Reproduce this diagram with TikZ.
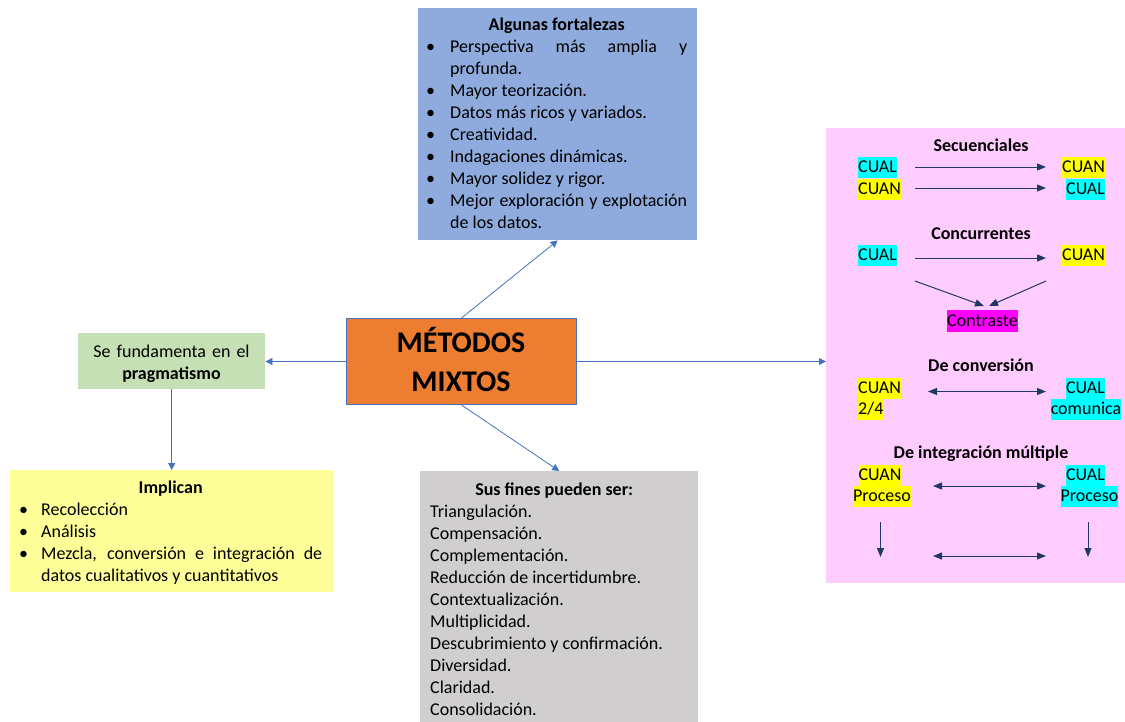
\documentclass[tikz,border=0pt]{standalone}
\usepackage{fontspec}
\setmainfont{Carlito}
\usetikzlibrary{arrows.meta}

\definecolor{linkblue}{HTML}{4472C4}
\definecolor{navy}{HTML}{1F3864}
\definecolor{fortfill}{HTML}{8FAADC}
\definecolor{corefill}{HTML}{ED7D31}
\definecolor{basefill}{HTML}{C5E0B4}
\definecolor{implfill}{HTML}{FFFF99}
\definecolor{finesfill}{HTML}{D0CECE}
\definecolor{pinkfill}{HTML}{FFCCFF}
\definecolor{hlcyan}{HTML}{00FFFF}
\definecolor{hlyellow}{HTML}{FFFF00}
\definecolor{hlmagenta}{HTML}{FF00FF}

% centred bold heading line opening a text block
\newcommand{\boxtitle}[1]{\makebox[\linewidth]{\bfseries #1}\par}
% bullet paragraph with hanging indent
\newcommand{\bitem}[2]{\par\noindent\hangindent=#1\hangafter=1\makebox[#1][l]{\textbullet}#2\par}
\newcommand{\nohyph}{\hyphenpenalty=10000\exhyphenpenalty=10000\emergencystretch=20pt}

\tikzset{
  panel/.style={draw=none, inner sep=0pt, anchor=north west},
  body/.style={inner sep=0pt, anchor=base west, align=justify,
    font=\fontsize{18}{22}\selectfont\nohyph},
  link/.style={draw=linkblue, line width=0.8pt, -{Triangle[length=7pt,width=7pt]}},
  flow/.style={draw=navy, line width=1pt, -{Triangle[length=9pt,width=7pt]}},
  bothflow/.style={draw=navy, line width=1pt, {Triangle[length=9pt,width=7pt]}-{Triangle[length=9pt,width=7pt]}},
  hl/.style={inner sep=0pt, text height=15pt, text depth=5.5pt,
    font=\fontsize{18}{22}\selectfont},
  headline/.style={inner sep=0pt, anchor=base, font=\fontsize{18}{22}\selectfont\bfseries},
}

\begin{document}
\begin{tikzpicture}[x=1pt,y=-1pt]
\useasboundingbox[fill=white] (0,0) rectangle (1125,721);

% ---------- panels ----------
\node[panel, fill=fortfill, minimum width=279pt, minimum height=232pt] (fort) at (418,8) {};
\node[panel, fill=corefill, draw=linkblue, line width=1pt, minimum width=230pt, minimum height=86pt] (core) at (346,318) {};
\node[panel, fill=basefill, minimum width=187pt, minimum height=56pt] (base) at (78,333) {};
\node[panel, fill=implfill, minimum width=323pt, minimum height=122pt] (impl) at (10,470) {};
\node[panel, fill=finesfill, minimum width=278pt, minimum height=252pt] (fines) at (420,471) {};
\node[panel, fill=pinkfill, minimum width=299pt, minimum height=455pt] (pink) at (826,128) {};

% ---------- connectors ----------
\draw[link] (core.north) -- (fort.south);
\draw[link] (core.west) -- (core.west -| base.east);
\draw[link] (base.south) -- (impl.north);
\draw[link] (core.south) -- (fines.north);
\draw[link] (core.east) -- (core.east -| pink.west);

% ---------- texts ----------
\node[body, text width=261pt] (fortText) at (426,30) {%
  \boxtitle{Algunas fortalezas}%
  \bitem{24pt}{Perspectiva más amplia y profunda.}%
  \bitem{24pt}{Mayor teorización.}%
  \bitem{24pt}{Datos más ricos y variados.}%
  \bitem{24pt}{Creatividad.}%
  \bitem{24pt}{Indagaciones dinámicas.}%
  \bitem{24pt}{Mayor solidez y rigor.}%
  \bitem{24pt}{Mejor exploración y explotación de los datos.}};

\node[inner sep=0pt, anchor=base, text width=226pt, align=center,
  font=\fontsize{30}{38.5}\selectfont\bfseries] (coreText) at (461,352.5)
  {MÉTODOS\\MIXTOS};

\node[inner sep=0pt, anchor=base, text width=185pt, align=center,
  font=\fontsize{18}{22}\selectfont] (baseText) at (171.5,357)
  {Se fundamenta en el\\\textbf{pragmatismo}};

\node[body, text width=303pt] (implText) at (19,493) {%
  \boxtitle{Implican}%
  \bitem{22pt}{Recolección}%
  \bitem{22pt}{Análisis}%
  \bitem{22pt}{Mezcla, conversión e integración de datos cualitativos y cuantitativos}};

\node[body, text width=248pt] (finesText) at (430,495) {%
  \boxtitle{Sus fines pueden ser:}%
  \noindent Triangulación.\\
  Compensación.\\
  Complementación.\\
  Reducción de incertidumbre.\\
  Contextualización.\\
  Multiplicidad.\\
  Descubrimiento y confirmación.\\
  Diversidad.\\
  Claridad.\\
  Consolidación.\par};

% ---------- design types ----------
\node[headline] (secT) at (981,151.5) {Secuenciales};
\node[hl, fill=hlcyan, anchor=north west] (secA) at (858,157) {CUAL};
\node[hl, fill=hlyellow, anchor=north west] (secB) at (858,179) {CUAN};
\node[hl, fill=hlyellow, anchor=north west] (secC) at (1062,157) {CUAN};
\node[hl, fill=hlcyan, anchor=north west] (secD) at (1066,179) {CUAL};
\coordinate (s1a) at (915,167); \coordinate (s1b) at (1046,167);
\coordinate (s2a) at (915,188); \coordinate (s2b) at (1046,188);
\draw[flow] (s1a) -- (s1b);
\draw[flow] (s2a) -- (s2b);

\node[headline] (conT) at (981,239.5) {Concurrentes};
\node[hl, fill=hlcyan, anchor=north west] (conA) at (858,245) {CUAL};
\node[hl, fill=hlyellow, anchor=north west] (conB) at (1062,245) {CUAN};
\node[hl, fill=hlmagenta, anchor=north west, text height=16pt, text depth=6pt] (contr) at (947,310) {Contraste};
\coordinate (c1a) at (915,258); \coordinate (c1b) at (1046,258);
\coordinate (c2a) at (915,281); \coordinate (c2b) at (984,306);
\coordinate (c3a) at (1046,281); \coordinate (c3b) at (989,306);
\draw[flow] (c1a) -- (c1b);
\draw[flow] (c2a) -- (c2b);
\draw[flow] (c3a) -- (c3b);

\node[headline] (cnvT) at (981,371.5) {De conversión};
\node[hl, fill=hlyellow, anchor=north west] (cnvA) at (858,378) {CUAN};
\node[hl, fill=hlyellow, anchor=north west] (cnvB) at (858,399) {2/4};
\node[hl, fill=hlcyan, anchor=north] (cnvC) at (1085.5,378) {CUAL};
\node[hl, fill=hlcyan, anchor=north] (cnvD) at (1086,399) {comunica};
\coordinate (v1a) at (928,391.5); \coordinate (v1b) at (1046,391.5);
\draw[bothflow] (v1a) -- (v1b);

\node[headline] (intT) at (981,458.5) {De integración múltiple};
\node[hl, fill=hlyellow, anchor=north] (intA) at (880,465) {CUAN};
\node[hl, fill=hlyellow, anchor=north] (intB) at (882,486) {Proceso};
\node[hl, fill=hlcyan, anchor=north] (intC) at (1085.5,465) {CUAL};
\node[hl, fill=hlcyan, anchor=north] (intD) at (1089.5,486) {Proceso};
\coordinate (i1a) at (933,486); \coordinate (i1b) at (1046,486);
\coordinate (i2a) at (880.5,522); \coordinate (i2b) at (880.5,557);
\coordinate (i3a) at (1088,522); \coordinate (i3b) at (1088,557);
\coordinate (i4a) at (933,556); \coordinate (i4b) at (1046,556);
\draw[bothflow] (i1a) -- (i1b);
\draw[flow] (i2a) -- (i2b);
\draw[flow] (i3a) -- (i3b);
\draw[bothflow] (i4a) -- (i4b);
\end{tikzpicture}
\end{document}
